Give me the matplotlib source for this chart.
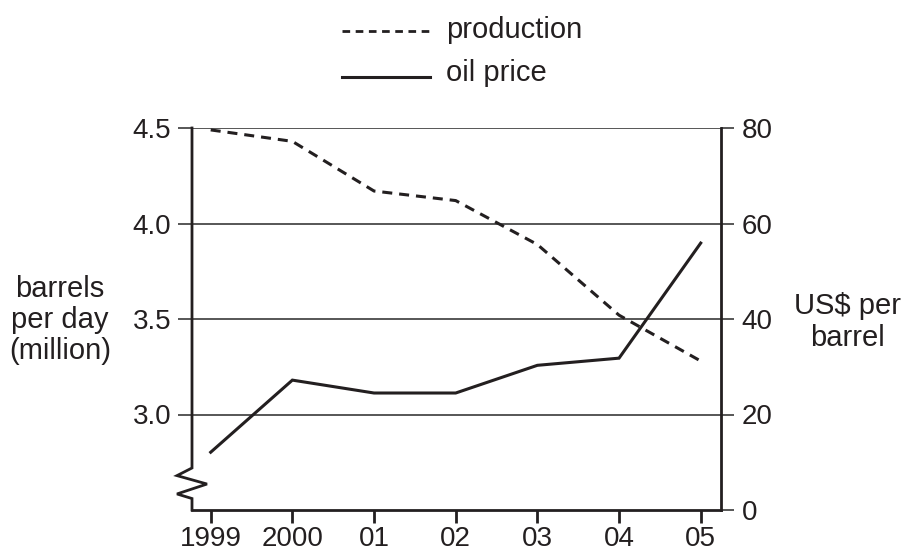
import matplotlib
matplotlib.use("Agg")
import matplotlib.pyplot as plt
from matplotlib.lines import Line2D
import matplotlib.transforms as mtransforms

plt.rcParams['font.family'] = ['Liberation Sans', 'DejaVu Sans']
plt.rcParams['lines.scale_dashes'] = False

years = [1999, 2000, 2001, 2002, 2003, 2004, 2005]
year_labels = ['1999', '2000', '01', '02', '03', '04', '05']
production = [4.49, 4.43, 4.17, 4.12, 3.89, 3.52, 3.28]   # million barrels per day
oil_price = [12.1, 27.2, 24.5, 24.5, 30.3, 31.8, 55.9]    # US$ per barrel
left_ticks = [3.0, 3.5, 4.0, 4.5]
right_ticks = [0, 20, 40, 60, 80]

INK = '#231f20'
GRID = '#3a3a3a'

W, H = 902, 555
fig = plt.figure(figsize=(W / 100, H / 100), dpi=100)
L, R, T, B = 192, 720.7, 128, 510
ax1 = fig.add_axes([L / W, 1 - B / H, (R - L) / W, (B - T) / H])
ax2 = ax1.twinx()

ax1.set_xlim(1999 - 18.7 / 81.67, 2005 + 20 / 81.67)
ax1.set_ylim(2.5, 4.5)
ax2.set_ylim(0, 80)

ax1.plot(years, production, color=INK, lw=2.2, linestyle=(0, (7.2, 5.0)),
         solid_capstyle='butt', dash_capstyle='butt', zorder=3)
ax2.plot(years, oil_price, color=INK, lw=2.2, solid_joinstyle='miter', zorder=3)

# spines
for s in ['top', 'right', 'left']:
    ax1.spines[s].set_visible(False)
ax1.spines['bottom'].set_linewidth(2.0)
ax1.spines['bottom'].set_color(INK)
for s in ['top', 'left', 'bottom']:
    ax2.spines[s].set_visible(False)
ax2.spines['right'].set_linewidth(2.0)
ax2.spines['right'].set_color(INK)

# left spine with break
trans = mtransforms.blended_transform_factory(ax1.transAxes, ax1.transData)
d = 15 / (R - L)
brk_x = [0, 0, -d, d, -d, 0, 0]
brk_y = [4.5, 2.72, 2.68, 2.636, 2.584, 2.56, 2.5]
ax1.add_line(Line2D(brk_x, brk_y, transform=trans, color=INK, lw=2.0,
                    clip_on=False, solid_joinstyle='miter', zorder=4))

# ticks and grid
ax1.set_xticks(years)
ax1.set_xticklabels(year_labels)
ax1.tick_params(axis='x', direction='out', length=9.4, width=2.0, color=INK,
                pad=2, labelsize=20, labelcolor=INK)
ax1.set_yticks(left_ticks)
ax1.set_yticklabels([f'{v:.1f}' for v in left_ticks])
ax1.tick_params(axis='y', direction='out', length=10, width=1.2, color=GRID,
                pad=5, labelsize=20, labelcolor=INK)
ax1.yaxis.grid(True, color=GRID, lw=1.2)
ax1.set_axisbelow(True)

ax2.set_yticks(right_ticks)
ax2.set_yticklabels([str(v) for v in right_ticks])
ax2.tick_params(axis='y', direction='out', length=9, width=1.2, color=GRID,
                pad=6, labelsize=20, labelcolor=INK)

# axis labels
fig.text(60 / W, 1 - 320 / H, 'barrels\nper day\n(million)', ha='center', va='center',
         fontsize=21, color=INK, linespacing=1.15)
fig.text(847 / W, 1 - 322 / H, 'US$ per\nbarrel', ha='center', va='center',
         fontsize=21, color=INK, linespacing=1.2)

# legend
def fx(x):
    return x / W

def fy(y):
    return 1 - y / H

fig.add_artist(Line2D([fx(342), fx(430)], [fy(31), fy(31)], transform=fig.transFigure,
                      color=INK, lw=2.0, linestyle=(0, (5.5, 4.0)), dash_capstyle='butt'))
fig.add_artist(Line2D([fx(342), fx(430)], [fy(77), fy(77)], transform=fig.transFigure,
                      color=INK, lw=2.2))
fig.text(fx(446), fy(38), 'production', ha='left', va='baseline', fontsize=21, color=INK)
fig.text(fx(446), fy(81), 'oil price', ha='left', va='baseline', fontsize=21, color=INK)

fig.savefig('out.png', dpi=100)
